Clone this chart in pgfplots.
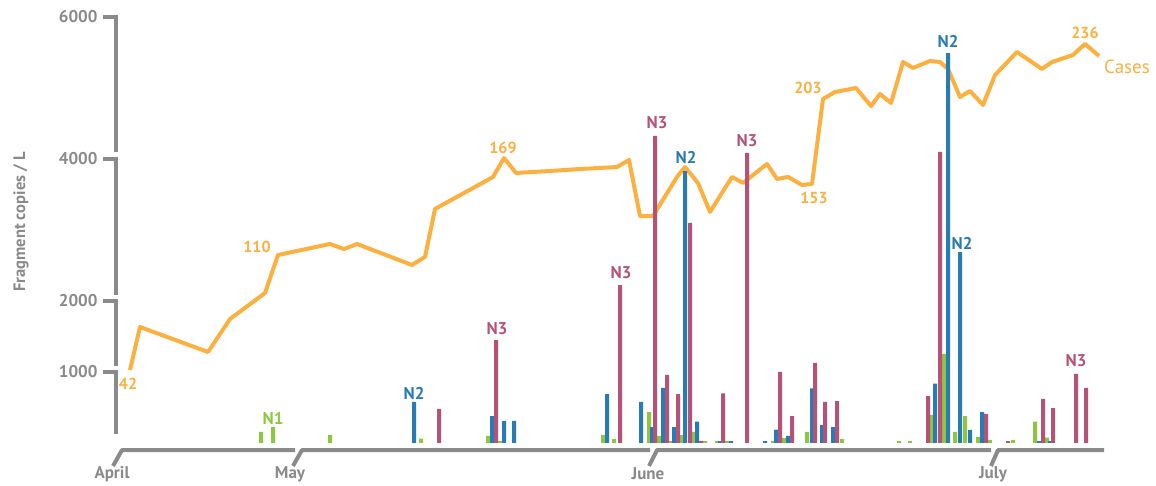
\documentclass[border=0pt]{standalone}
\usepackage{pgfplots}
\pgfplotsset{compat=1.18}
\usepackage{fontspec}
\setmainfont{PT Sans}
\definecolor{cgreen}{RGB}{141,198,63}
\definecolor{cblue}{RGB}{41,123,182}
\definecolor{cpink}{RGB}{181,82,120}
\definecolor{corange}{RGB}{251,176,64}
\definecolor{cgray}{RGB}{138,138,138}

\pgfplotstableread{
x v
261 155
273 225
330 113
421 60
488 100
500 30
603 113
614 56
649 435
659 100
671 25
681 110
694 155
705 25
717 30
727 30
773 30
784 70
807 155
842 55
899 25
910 25
932 395
944 1255
955 155
965 380
978 85
990 45
1013 45
1035 300
1047 75
}\greendata

\pgfplotstableread{
x v
414 580
492 380
504 310
514 310
607 690
641 580
652 225
663 775
674 225
685 3830
697 300
720 25
731 25
765 25
776 190
788 100
812 770
822 255
833 225
935 835
948 5490
960 2690
970 185
982 435
1039 25
1050 25
}\bluedata

\pgfplotstableread{
x v
439 480
496 1450
620 2225
655 4324
667 960
678 690
690 3100
701 30
723 700
747 4085
780 1000
792 380
815 1130
825 580
837 590
928 660
940 4100
986 410
1008 25
1043 620
1053 490
1076 975
1086 775
}\pinkdata

\pgfplotstableread{
x v
130 1028
140 1634
208 1282
230 1746
265 2113
278 2648
330 2803
344 2732
357 2803
412 2507
425 2620
435 3296
493 3747
504 4014
516 3803
550 3831
580 3859
617 3887
629 3986
640 3197
653 3197
677 3747
685 3887
698 3662
710 3254
732 3747
743 3662
767 3930
777 3718
788 3747
802 3634
812 3648
823 4845
835 4944
856 5000
871 4746
880 4915
891 4789
903 5366
913 5282
930 5380
940 5366
948 5268
960 4873
970 4958
983 4761
995 5183
1017 5507
1042 5268
1052 5366
1073 5465
1085 5620
1099 5451
}\casesdata

\begin{document}
\begin{tikzpicture}
\begin{axis}[width=1156pt,height=486pt,scale only axis,
  xmin=0,xmax=1156,ymin=-605.6,ymax=6239.4,
  hide axis, clip=false]
\path (axis cs:0,-605.6) rectangle (axis cs:1156,6239.4);
% axes
\draw[cgray, line width=4pt, line join=miter]
  (axis cs:103,6000)--(axis cs:116,6000)--(axis cs:116,4099);
\draw[cgray, line width=4pt, line join=miter]
  (axis cs:103,4000)--(axis cs:116,4000)--(axis cs:116,2085);
\draw[cgray, line width=4pt, line join=miter]
  (axis cs:103,2000)--(axis cs:116,2000)--(axis cs:116,1085);
\draw[cgray, line width=4pt, line join=miter]
  (axis cs:103,1000)--(axis cs:116,1000)--(axis cs:116,127);
\draw[cgray, line width=4pt, line join=round]
  (axis cs:113,-324)--(axis cs:122,-99)--(axis cs:295,-99);
\draw[cgray, line width=4pt, line join=round]
  (axis cs:293,-324)--(axis cs:302,-99)--(axis cs:650,-99);
\draw[cgray, line width=4pt, line join=round]
  (axis cs:649,-324)--(axis cs:657,-99)--(axis cs:991,-99);
\draw[cgray, line width=4pt, line join=round]
  (axis cs:991,-324)--(axis cs:998,-99)--(axis cs:1104,-99);
% tick labels
\begin{scope}[every node/.style={text=cgray, font=\fontsize{17}{19}\selectfont\bfseries}]
\node[anchor=east] at (axis cs:101,6000) {6000};
\node[anchor=east] at (axis cs:101,4000) {4000};
\node[anchor=east] at (axis cs:101,2000) {2000};
\node[anchor=east] at (axis cs:101,1000) {1000};
\end{scope}
\begin{scope}[every node/.style={text=cgray, font=\fontsize{17}{19}\selectfont\bfseries}]
\node at (axis cs:112,-436) {April};
\node at (axis cs:290,-436) {May};
\node at (axis cs:648,-436) {June};
\node at (axis cs:993,-436) {July};
\node[rotate=90, font=\fontsize{16.5}{18}\selectfont\bfseries] at (axis cs:21,3113) {Fragment copies / L};
\end{scope}
% cases line
\addplot[corange, line width=4pt, line join=round, mark=none] table[x=x,y=v] {\casesdata};
% bars
\addplot[ybar, bar width=4pt, bar shift=0pt, fill=cgreen, draw=none] table[x=x,y=v] {\greendata};
\addplot[ybar, bar width=4pt, bar shift=0pt, fill=cblue, draw=none] table[x=x,y=v] {\bluedata};
\addplot[ybar, bar width=4pt, bar shift=0pt, fill=cpink, draw=none] table[x=x,y=v] {\pinkdata};
% annotations
\begin{scope}[every node/.style={text=corange, font=\fontsize{16}{18}\selectfont\bfseries}]
\node at (axis cs:128,831) {42};
\node at (axis cs:257,2761) {110};
\node at (axis cs:503,4155) {169};
\node at (axis cs:814,3451) {153};
\node at (axis cs:808,5000) {203};
\node at (axis cs:1085,5775) {236};
\node[font=\fontsize{19}{21}\selectfont] at (axis cs:1127,5296) {Cases};
\end{scope}
\begin{scope}[every node/.style={font=\fontsize{17}{19}\selectfont\bfseries}]
\node[text=cgreen] at (axis cs:273,352) {N1};
\node[text=cblue] at (axis cs:414,704) {N2};
\node[text=cpink] at (axis cs:497,1606) {N3};
\node[text=cpink] at (axis cs:621,2394) {N3};
\node[text=cpink] at (axis cs:657,4507) {N3};
\node[text=cblue] at (axis cs:686,4028) {N2};
\node[text=cpink] at (axis cs:747,4254) {N3};
\node[text=cblue] at (axis cs:948,5662) {N2};
\node[text=cblue] at (axis cs:962,2817) {N2};
\node[text=cpink] at (axis cs:1076,1155) {N3};
\end{scope}
\end{axis}
\end{tikzpicture}
\end{document}
